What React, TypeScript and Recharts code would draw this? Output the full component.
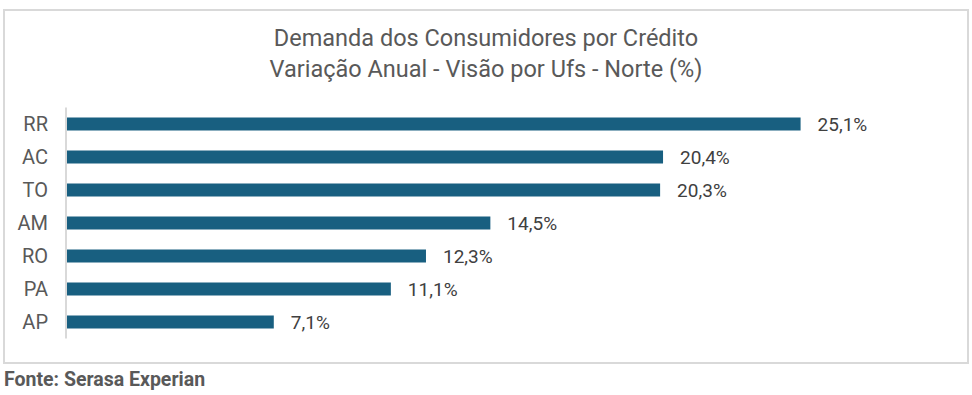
import { BarChart, Bar, XAxis, YAxis, LabelList } from 'recharts';

const ufs = ['RR', 'AC', 'TO', 'AM', 'RO', 'PA', 'AP'];
const variacao = [25.1, 20.4, 20.3, 14.5, 12.3, 11.1, 7.1];

const titleLines = ['Demanda dos Consumidores por Crédito', 'Variação Anual - Visão por Ufs - Norte (%)'];
const source = 'Fonte: Serasa Experian';

const data = ufs.map((uf, i) => ({ uf, value: variacao[i] }));

const font = 'Roboto, "Noto Sans", sans-serif';
const fmt = (v: number) => `${v.toFixed(1).replace('.', ',')}%`;

export default function App() {
  return (
    <div style={{ position: 'relative', width: 972, height: 395, background: '#fff', fontFamily: font }}>
      <style>{'body { margin: 0; }'}</style>
      <div
        style={{
          position: 'absolute',
          left: 0,
          top: 23,
          width: 972,
          textAlign: 'center',
          fontSize: 23.5,
          lineHeight: '31px',
          color: '#595959',
        }}
      >
        {titleLines.map((t) => (
          <div key={t}>{t}</div>
        ))}
      </div>
      <div style={{ position: 'absolute', left: 0, top: 0 }}>
        <BarChart
          width={972}
          height={395}
          data={data}
          layout="vertical"
          margin={{ top: 107.5, right: 28, bottom: 56.5, left: 10 }}
          barSize={13}
        >
          <XAxis type="number" domain={[0, 30]} hide />
          <YAxis
            type="category"
            dataKey="uf"
            width={56}
            axisLine={{ stroke: '#d9d9d9', strokeWidth: 2 }}
            tickLine={false}
            tickSize={0}
            tickMargin={18}
            tick={{ fontSize: 20, fill: '#595959', fontFamily: font }}
          />
          <Bar dataKey="value" fill="#185f80" isAnimationActive={false}>
            <LabelList
              dataKey="value"
              position="right"
              offset={17}
              formatter={(v: number) => fmt(v)}
              fill="#404040"
              fontSize={19}
              fontFamily={font}
            />
          </Bar>
        </BarChart>
      </div>
      <div
        style={{
          position: 'absolute',
          left: 3,
          top: 9,
          width: 962,
          height: 351,
          border: '2px solid #d9d9d9',
          pointerEvents: 'none',
        }}
      />
      <div
        style={{
          position: 'absolute',
          left: 4,
          top: 368,
          fontSize: 19.5,
          fontWeight: 700,
          color: '#595959',
        }}
      >
        {source}
      </div>
    </div>
  );
}
